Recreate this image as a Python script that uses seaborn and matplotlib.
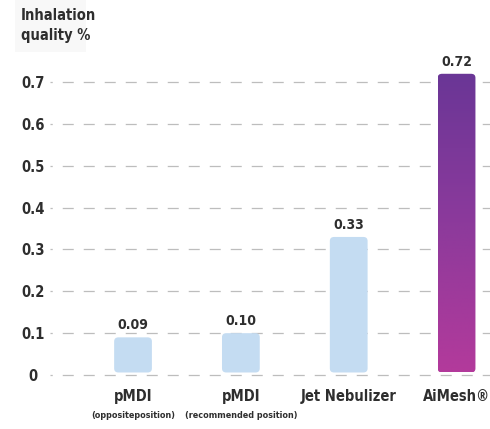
import numpy as np
import pandas as pd
import matplotlib
matplotlib.use("Agg")
import matplotlib.pyplot as plt
import seaborn as sb
from matplotlib.patches import FancyBboxPatch, Rectangle
from matplotlib.colors import LinearSegmentedColormap

# data
devices = ["pMDI", "pMDI", "Jet Nebulizer", "AiMesh\u00ae"]
notes = ["(oppositeposition)", "(recommended position)", "", ""]
quality = [0.09, 0.10, 0.33, 0.72]
value_labels = ["0.09", "0.10", "0.33", "0.72"]
yticks = [0, 0.1, 0.2, 0.3, 0.4, 0.5, 0.6, 0.7]

sb.set_style("white")
plt.rcParams['font.family'] = ['DejaVu Sans']
plt.rcParams['font.stretch'] = 'condensed'
plt.rcParams['font.weight'] = 'bold'
text_color = "#2e2e2e"

df = pd.DataFrame({"device": [f"{d}{i}" for i, d in enumerate(devices)], "quality": quality})

fig = plt.figure(figsize=(4.9, 4.29), dpi=100)
ax = fig.add_axes([0.102, 0.121, 0.898, 0.746])

sb.barplot(data=df, x="device", y="quality", color="#c4dcf2", saturation=1,
           width=0.35, ax=ax, zorder=3)
ax.set_xlim(-0.77, 3.31)
ax.set_ylim(-0.005, 0.76)

# rounded bars, last one with a purple/magenta gradient
grad = LinearSegmentedColormap.from_list("aimesh", ["#b33a9b", "#8c3a9c", "#6a3696"])
for i, p in enumerate(list(ax.patches)):
    x0, y0 = p.get_x(), 0.006
    w, h = p.get_width(), p.get_height() - 0.006
    rb = FancyBboxPatch((x0, y0), w, h, boxstyle="round,pad=0,rounding_size=0.04",
                        mutation_aspect=0.24, facecolor=p.get_facecolor(),
                        edgecolor="none", zorder=3)
    p.remove()
    ax.add_patch(rb)
    if i == len(quality) - 1:
        rb.set_facecolor("none")
        g = np.linspace(0, 1, 256).reshape(-1, 1)
        im = ax.imshow(g, cmap=grad, aspect="auto", origin="lower",
                       extent=(x0, x0 + w, y0, y0 + h), zorder=3)
        im.set_clip_path(rb)
    ax.text(x0 + w / 2, quality[i] + 0.012, value_labels[i], ha="center", va="bottom",
            fontsize=10, color=text_color)

# dashed grid
for t in yticks:
    ax.axhline(t, color="#bdbdbd", lw=0.9, ls=(7, (8.8, 8)), zorder=1)

ax.set_yticks(yticks)
ax.set_yticklabels([f"{t:g}" for t in yticks], fontsize=10.5, color=text_color,
                   ha="center")
ax.tick_params(axis="y", length=0, pad=12)
ax.set_xticks([])
ax.set_xlabel("")
ax.set_ylabel("")
sb.despine(ax=ax, left=True, bottom=True, top=True, right=True)

for i, d in enumerate(devices):
    ax.text(i, -0.034, d, ha="center", va="top", fontsize=10.5, color=text_color,
            clip_on=False)
    if notes[i]:
        ax.text(i, -0.086, notes[i], ha="center", va="top", fontsize=6.5,
                color=text_color, clip_on=False)

# y title with its faint box
fig.patches.append(Rectangle((0.03, 0.878), 0.145, 0.122, transform=fig.transFigure,
                             facecolor="#f8f8f8", edgecolor="none", zorder=0))
fig.text(0.042, 0.982, "Inhalation\nquality %", ha="left", va="top", fontsize=10.5,
         color=text_color, linespacing=1.45)

fig.savefig("out.png", dpi=100)
